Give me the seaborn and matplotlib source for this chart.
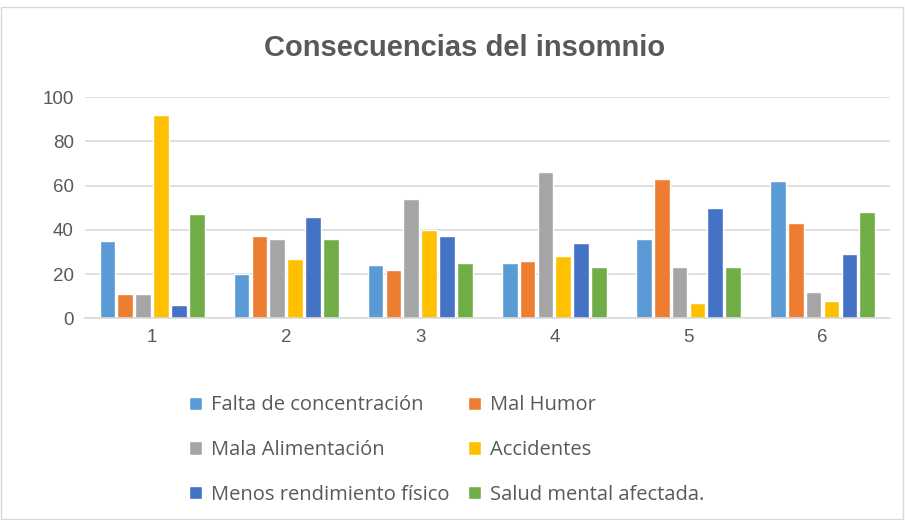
import matplotlib
matplotlib.use("Agg")
import matplotlib.pyplot as plt
import pandas as pd
import seaborn as sns

categories = ["1", "2", "3", "4", "5", "6"]
series_names = [
    "Falta de concentración",
    "Mal Humor",
    "Mala Alimentación",
    "Accidentes",
    "Menos rendimiento físico",
    "Salud mental afectada.",
]
falta = [35, 20, 24, 25, 36, 62]
mal_humor = [11, 37, 22, 26, 63, 43]
mala_alim = [11, 36, 54, 66, 23, 12]
accidentes = [92, 27, 40, 28, 7, 8]
menos_rend = [6, 46, 37, 34, 50, 29]
salud = [47, 36, 25, 23, 23, 48]
colors = ["#5B9BD5", "#ED7D31", "#A5A5A5", "#FFC000", "#4472C4", "#70AD47"]

rows = []
for name, vals in zip(series_names, [falta, mal_humor, mala_alim, accidentes, menos_rend, salud]):
    for cat, v in zip(categories, vals):
        rows.append({"cat": cat, "serie": name, "valor": v})
df = pd.DataFrame(rows)

sns.set_style("white")
plt.rcParams["font.family"] = ["Liberation Sans", "DejaVu Sans"]
text_col = "#595959"

fig = plt.figure(figsize=(9.05, 5.2), dpi=100)
ax = fig.add_axes([0.094, 0.388, 0.889, 0.425])
sns.barplot(
    data=df, x="cat", y="valor", hue="serie", order=categories,
    hue_order=series_names, palette=colors, width=0.8, gap=0.12,
    saturation=1, ax=ax, legend=True,
)
ax.set_ylim(0, 100)
ax.set_yticks(range(0, 101, 20))
ax.yaxis.grid(True, color="#D9D9D9", linewidth=1.2)
ax.set_axisbelow(True)
ax.set_xlabel("")
ax.set_ylabel("")
for s in ["top", "right", "left"]:
    ax.spines[s].set_visible(False)
ax.spines["bottom"].set_color("#D9D9D9")
ax.spines["bottom"].set_linewidth(1.2)
ax.tick_params(axis="both", length=0, labelsize=13.5, colors=text_col, pad=8)

fig.text(0.513, 0.908, "Consecuencias del insomnio", ha="center", va="center",
         fontsize=21, fontweight="bold", color=text_col)

handles, labels = ax.get_legend_handles_labels()
order = [0, 2, 4, 1, 3, 5]
ax.legend().remove()
leg = fig.legend(
    [handles[i] for i in order], [labels[i] for i in order],
    ncol=2, loc="upper left", bbox_to_anchor=(0.2, 0.255), frameon=False,
    labelspacing=1.22, columnspacing=0.9, handlelength=0.65,
    handleheight=0.65, handletextpad=0.45, borderaxespad=0,
    prop={"family": ["Open Sans", "DejaVu Sans"], "size": 14.5},
)
for t in leg.get_texts():
    t.set_color(text_col)

fig.patches.append(plt.Rectangle((0.001, 0.002), 0.997, 0.985, transform=fig.transFigure,
                                 fill=False, edgecolor="#D9D9D9", linewidth=1))
fig.savefig("out.png", dpi=100)
